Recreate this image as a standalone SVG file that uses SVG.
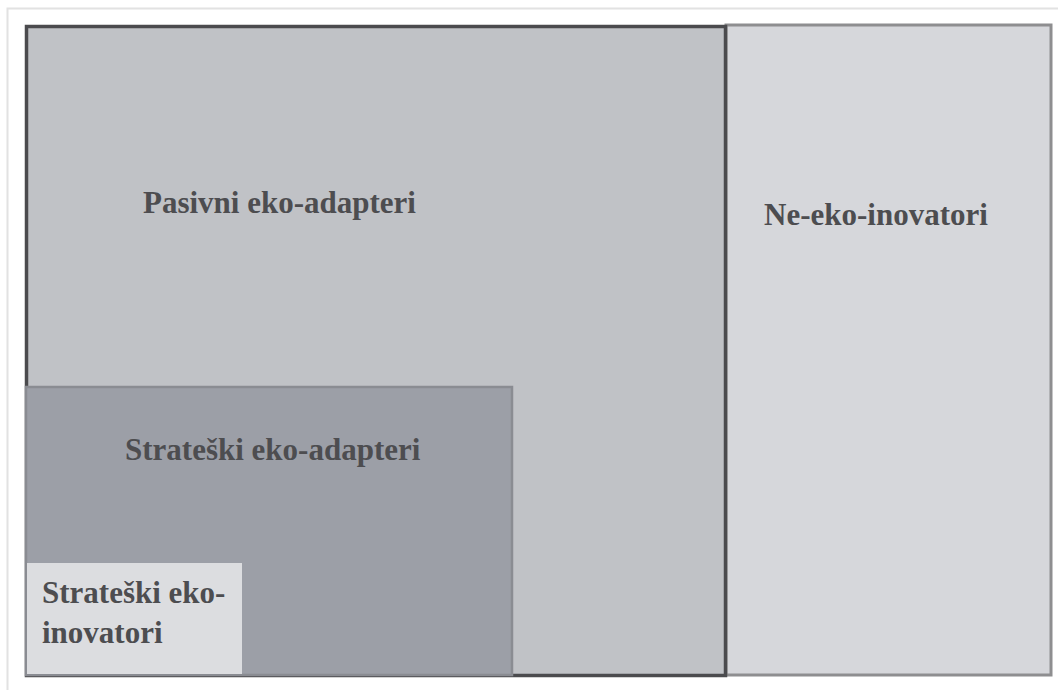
<svg xmlns="http://www.w3.org/2000/svg" width="1058" height="690" viewBox="0 0 1058 690">
<style>
.t{font-family:"Liberation Serif","Times New Roman",serif;font-weight:bold;font-size:31px;fill:#4d4d50}
</style>
<rect width="1058" height="690" fill="#ffffff"/>
<g id="frame">
<path d="M7.5 700 V8.5 H1070" fill="none" stroke="#e2e2e2" stroke-width="2"/>
</g>
<g id="ne-eko-inovatori">
<rect x="726" y="25" width="325" height="650" fill="#d6d7db" stroke="#8e8e90" stroke-width="3"/>
<text class="t" x="764" y="225">Ne-eko-inovatori</text>
</g>
<g id="pasivni-eko-adapteri">
<rect x="26.5" y="26.5" width="699" height="649" fill="#c0c2c6" stroke="#4b4b4e" stroke-width="3.5"/>
<text class="t" x="143" y="213">Pasivni eko-adapteri</text>
</g>
<g id="strateski-eko-adapteri">
<rect x="26" y="387" width="486" height="288" fill="#9c9fa7" stroke="#8a8c92" stroke-width="2.5"/>
<text class="t" x="125" y="460">Strateški eko-adapteri</text>
</g>
<g id="strateski-eko-inovatori">
<rect x="27" y="563" width="215" height="111" fill="#dcdde0"/>
<text class="t" x="42" y="603">Strateški eko-</text>
<text class="t" x="42" y="643">inovatori</text>
</g>
<g id="connectors"></g>
</svg>
